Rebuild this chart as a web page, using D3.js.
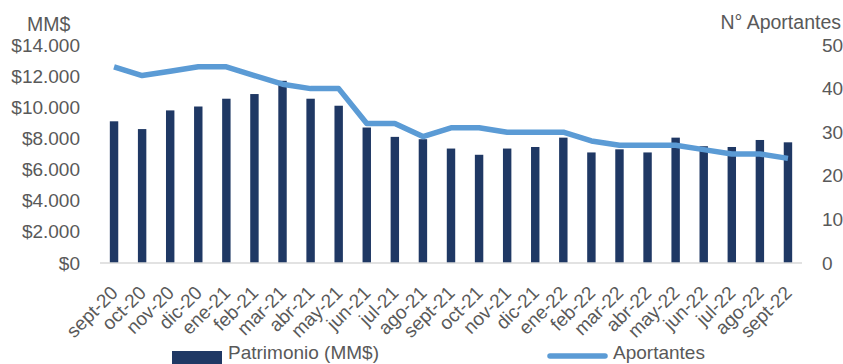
<!DOCTYPE html>
<html>
<head>
<meta charset="utf-8">
<script src="https://cdn.jsdelivr.net/npm/d3@7"></script>
<style>
  body { margin: 0; background: #fff; }
  text { font-family: "Liberation Sans", Arial, sans-serif; fill: #595959; }
</style>
</head>
<body>
<div id="chart"></div>
<script>
// data
var months = ['sept-20','oct-20','nov-20','dic-20','ene-21','feb-21','mar-21','abr-21','may-21','jun-21','jul-21','ago-21',
              'sept-21','oct-21','nov-21','dic-21','ene-22','feb-22','mar-22','abr-22','may-22','jun-22','jul-22','ago-22','sept-22'];
var patrimonio = [9100,8600,9800,10050,10550,10850,11700,10550,10100,8700,8100,7950,
                  7350,6950,7350,7450,8050,7100,7300,7100,8050,7500,7450,7900,7750];
var aportantes = [45,43,44,45,45,43,41,40,40,32,32,29,31,31,30,30,30,28,27,27,27,26,25,25,24];
var leftTicks = [0,2000,4000,6000,8000,10000,12000,14000];
var rightTicks = [0,10,20,30,40,50];

var W = 843, H = 364;
var margin = {top: 45, right: 41, bottom: 101, left: 100};
var width = W - margin.left - margin.right,
    height = H - margin.top - margin.bottom;

var svg = d3.select('#chart').append('svg')
    .attr('width', W).attr('height', H);
var g = svg.append('g')
    .attr('transform', 'translate(' + margin.left + ',' + margin.top + ')');

var x = d3.scaleBand().domain(months).range([0, width]).paddingInner(0.7).paddingOuter(0.35);
var yL = d3.scaleLinear().domain([0, 14000]).range([height, 0]);
var yR = d3.scaleLinear().domain([0, 50]).range([height, 0]);

var fmt = function(d){ return '$' + d3.format(',')(d).replace(/,/g, '.'); };

// left axis
var axL = g.append('g').call(d3.axisLeft(yL).tickValues(leftTicks).tickFormat(fmt).tickSize(0).tickPadding(20));
axL.select('.domain').remove();
axL.selectAll('text').style('font-size', '19px').attr('fill', '#595959');

// right axis
var axR = g.append('g').attr('transform', 'translate(' + width + ',0)')
  .call(d3.axisRight(yR).tickValues(rightTicks).tickSize(0).tickPadding(20));
axR.select('.domain').remove();
axR.selectAll('text').style('font-size', '19px').attr('fill', '#595959');

// bars
g.selectAll('.bar').data(patrimonio).enter().append('rect')
  .attr('x', function(d,i){ return x(months[i]); })
  .attr('width', x.bandwidth())
  .attr('y', function(d){ return yL(d); })
  .attr('height', function(d){ return height - yL(d); })
  .attr('fill', '#1F3864');

// baseline
g.append('line').attr('x1', 0).attr('x2', width).attr('y1', height).attr('y2', height)
  .attr('stroke', '#D9D9D9').attr('stroke-width', 1.5);

// line
var line = d3.line()
  .x(function(d,i){ return x(months[i]) + x.bandwidth()/2; })
  .y(function(d){ return yR(d); });
g.append('path').datum(aportantes)
  .attr('d', line).attr('fill', 'none')
  .attr('stroke', '#5B9BD5').attr('stroke-width', 5.5).attr('stroke-linejoin', 'round');

// x labels
g.selectAll('.xl').data(months).enter().append('text')
  .attr('transform', function(d){ return 'translate(' + (x(d) + x.bandwidth()/2 + 5) + ',' + (height + 31) + ') rotate(-45)'; })
  .attr('text-anchor', 'end')
  .style('font-size', '19px')
  .text(function(d){ return d; });

// axis titles
svg.append('text').attr('x', 27).attr('y', 31).style('font-size', '19.5px').text('MM$');
svg.append('text').attr('x', 841).attr('y', 29).attr('text-anchor', 'end').style('font-size', '19.5px').text('N° Aportantes');

// legend
svg.append('rect').attr('x', 172).attr('y', 351).attr('width', 50).attr('height', 13).attr('fill', '#1F3864');
svg.append('text').attr('x', 228).attr('y', 359).style('font-size', '19px').text('Patrimonio (MM$)');
svg.append('line').attr('x1', 550).attr('x2', 605).attr('y1', 356).attr('y2', 356)
  .attr('stroke', '#5B9BD5').attr('stroke-width', 5.5).attr('stroke-linecap', 'round');
svg.append('text').attr('x', 613).attr('y', 359).style('font-size', '19px').text('Aportantes');
</script>
</body>
</html>
